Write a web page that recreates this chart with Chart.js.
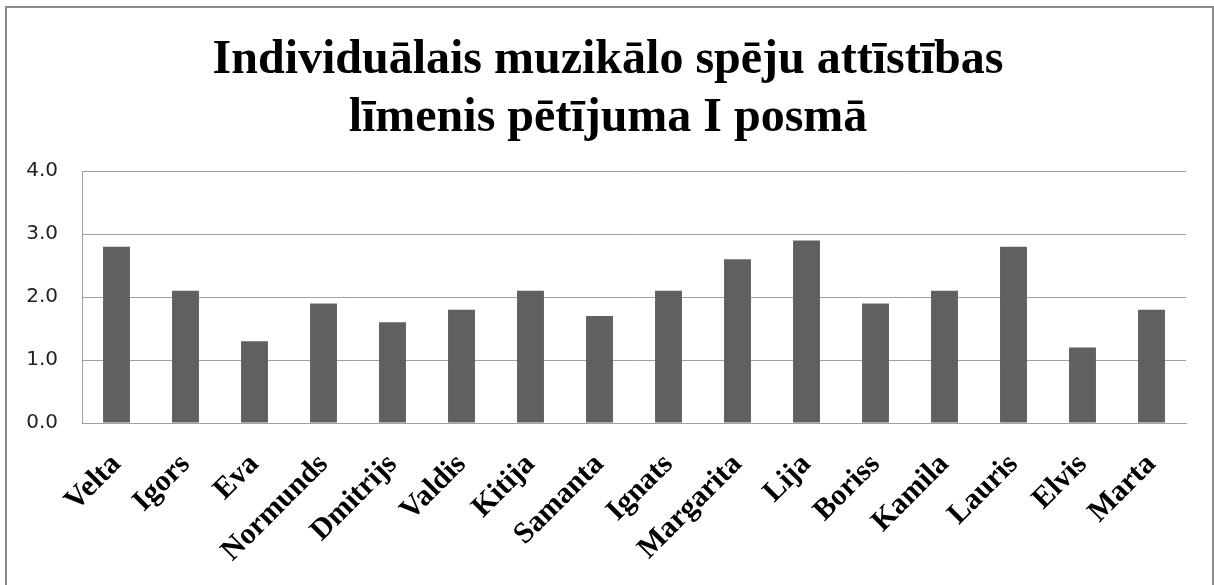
<!DOCTYPE html>
<html>
<head>
<meta charset="utf-8">
<script src="https://cdn.jsdelivr.net/npm/chart.js@4"></script>
<style>
  html, body { margin: 0; padding: 0; background: #fff; }
  #wrap { position: relative; width: 1214px; height: 585px; overflow: hidden; }
  #frame { position: absolute; left: 5px; top: 6px; width: 1205px; height: 620px;
           border: 2px solid #8a8a8a; pointer-events: none; }
  canvas { position: absolute; left: 0; top: 0; }
</style>
</head>
<body>
<div id="wrap">
  <canvas id="chart" width="1214" height="585"></canvas>
  <div id="frame"></div>
</div>
<script>
const titleLines = ["Individuālais muzikālo spēju attīstības", "līmenis pētījuma I posmā"];
const names = ["Velta", "Igors", "Eva", "Normunds", "Dmitrijs", "Valdis", "Kitija", "Samanta",
    "Ignats", "Margarita", "Lija", "Boriss", "Kamila", "Lauris", "Elvis", "Marta"];
const scores = [2.8, 2.1, 1.3, 1.9, 1.6, 1.8, 2.1, 1.7, 2.1, 2.6, 2.9, 1.9, 2.1, 2.8, 1.2, 1.8];
const yMin = 0;
const yMax = 4;
const yStep = 1;

// title is centred on the whole frame, not on the plot area
const titleShift = {
    id: "titleShift",
    afterLayout(chart) {
        chart.titleBlock.left += 30;
    },
};

const ctx = document.getElementById("chart").getContext("2d");
new Chart(ctx, {
    type: "bar",
    data: {
        labels: names,
        datasets: [
            {
                data: scores,
                backgroundColor: "#606060",
                borderWidth: 0,
                categoryPercentage: 1,
                barPercentage: 0.39,
            },
        ],
    },
    plugins: [titleShift],
    options: {
        responsive: false,
        animation: false,
        layout: { padding: { top: 22, right: 28, left: 0, bottom: 0 } },
        plugins: {
            legend: { display: false },
            tooltip: { enabled: false },
            title: {
                display: true,
                text: titleLines,
                color: "#000",
                font: { family: "'Liberation Serif', 'Times New Roman', serif", size: 48, weight: "bold", lineHeight: 1.2 },
                padding: { top: 10, bottom: 24 },
            },
        },
        scales: {
            x: {
                grid: { display: false },
                border: { display: true, color: "#a0a0a0", width: 1 },
                ticks: {
                    color: "#000",
                    maxRotation: 45,
                    minRotation: 45,
                    autoSkip: false,
                    padding: 16,
                    font: { family: "'Liberation Serif', 'Times New Roman', serif", size: 30, weight: "bold" },
                },
                afterFit: (s) => { s.height = 162; },
            },
            y: {
                min: yMin,
                max: yMax,
                grid: { color: "#a0a0a0", lineWidth: 1, drawTicks: false },
                border: { display: true, color: "#a0a0a0", width: 1 },
                ticks: {
                    stepSize: yStep,
                    color: "#222",
                    padding: 24,
                    font: { family: "'DejaVu Sans', sans-serif", size: 20 },
                    callback: (v) => Number(v).toFixed(1),
                },
                afterFit: (s) => { s.width = 82; },
            },
        },
    },
});
</script>
</body>
</html>
